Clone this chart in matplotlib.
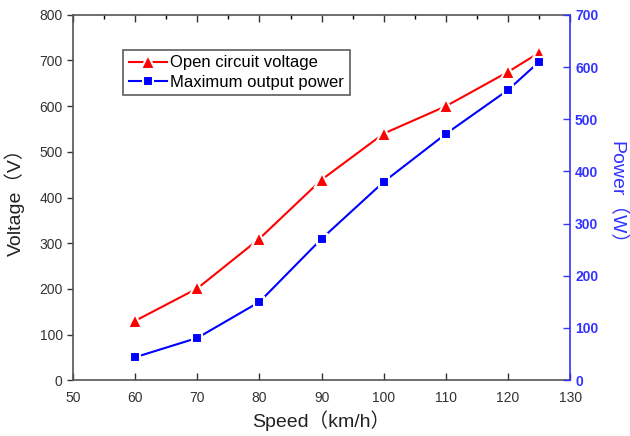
import matplotlib
import matplotlib.pyplot as plt
from matplotlib.ticker import MultipleLocator

matplotlib.rcParams['font.family'] = ['Liberation Sans', 'Noto Sans CJK SC', 'DejaVu Sans']

speed = [60, 70, 80, 90, 100, 110, 120, 125]
voltage = [130, 201, 310, 439, 540, 600, 675, 717]
power = [44, 81, 150, 271, 380, 472, 556, 610]

red = '#ff0000'
blue = '#0000ff'
axis_blue = '#3333ff'
grey = '#333333'

fig = plt.figure(figsize=(6.3, 4.36), dpi=100)
ax = fig.add_axes([0.116, 0.128, 0.789, 0.838])
ax2 = ax.twinx()

l1, = ax.plot(speed, voltage, color=red, lw=1.5, marker='^', ms=10,
              mec='white', mew=1.5, mfc=red, label='Open circuit voltage')
l2, = ax2.plot(speed, power, color=blue, lw=1.5, marker='s', ms=7.5,
               mec='white', mew=1.5, mfc=blue, label='Maximum output power')

ax.set_xlim(50, 130)
ax.set_ylim(0, 800)
ax2.set_ylim(0, 700)
ax.xaxis.set_major_locator(MultipleLocator(10))
ax.xaxis.set_minor_locator(MultipleLocator(5))
ax.yaxis.set_major_locator(MultipleLocator(100))
ax2.yaxis.set_major_locator(MultipleLocator(100))

for s in ['left', 'bottom', 'top']:
    ax.spines[s].set_color('#555555')
    ax.spines[s].set_linewidth(1.2)
ax.spines['right'].set_visible(False)
ax2.spines['right'].set_color(axis_blue)
ax2.spines['right'].set_linewidth(1.2)
for s in ['left', 'bottom', 'top']:
    ax2.spines[s].set_visible(False)

ax.tick_params(axis='x', which='major', direction='in', length=5, top=True,
               labelsize=10, colors=grey, width=1, pad=8)
ax.tick_params(axis='x', which='minor', direction='in', length=3, top=True, bottom=False, width=1)
ax.tick_params(axis='y', direction='out', length=4, labelsize=10, colors=grey, width=1)
ax2.tick_params(axis='y', direction='in', length=5, labelsize=10, colors=axis_blue, width=1)
for t in ax2.get_yticklabels():
    t.set_fontweight('bold')

ax.set_xlabel('Speed（km/h）', fontsize=14, color='#222222', labelpad=4)
ax.set_ylabel('Voltage（V）', fontsize=14, color='#222222', labelpad=10)
ax2.set_ylabel('Power（W）', fontsize=14, color=axis_blue, rotation=-90, labelpad=20)

leg = ax.legend([l1, l2], [l1.get_label(), l2.get_label()], loc='upper left',
                bbox_to_anchor=(0.1, 0.905), fontsize=12, frameon=True, fancybox=False,
                handlelength=2.3, handletextpad=0.2, borderpad=0.35, labelspacing=0.25,
                borderaxespad=0)
leg.get_frame().set_edgecolor('#333333')
leg.get_frame().set_linewidth(1.2)

fig.savefig('out.png', dpi=100)
